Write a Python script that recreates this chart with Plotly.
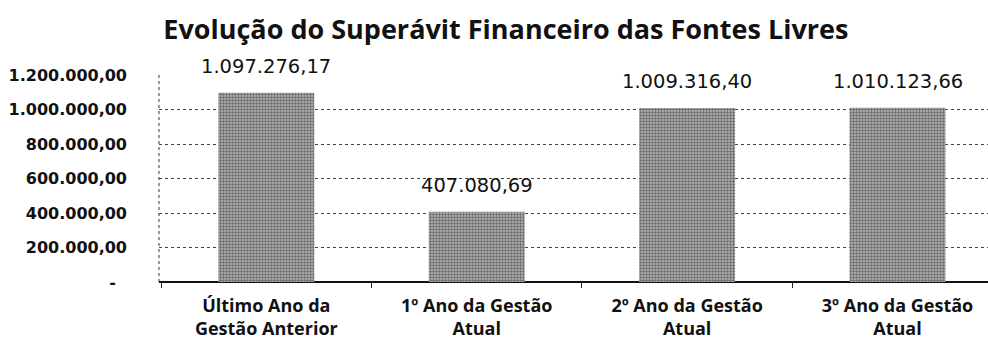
import plotly.graph_objects as go

# Superávit financeiro das fontes livres, por período de gestão
categorias = [
    "Último Ano da<br>Gestão Anterior",
    "1º Ano da Gestão<br>Atual",
    "2º Ano da Gestão<br>Atual",
    "3º Ano da Gestão<br>Atual",
]
valores = [1097276.17, 407080.69, 1009316.40, 1010123.66]
rotulos = ["1.097.276,17", "407.080,69", "1.009.316,40", "1.010.123,66"]

tick_vals = [0, 200000, 400000, 600000, 800000, 1000000, 1200000]
tick_text = ["-\u00a0\u00a0", "200.000,00", "400.000,00", "600.000,00",
             "800.000,00", "1.000.000,00", "1.200.000,00"]

fig = go.Figure()
fig.add_trace(go.Bar(
    x=categorias,
    y=valores,
    marker=dict(
        color="#8a8a8a",
        line=dict(width=0),
        pattern=dict(shape=".", fgcolor="#151515", bgcolor="#b8b8b8",
                     size=3, solidity=0.5),
    ),
    showlegend=False,
))

# Rótulos de valor acima de cada barra
for cat, val, txt in zip(categorias, valores, rotulos):
    fig.add_annotation(
        x=cat, y=val, text=txt, showarrow=False,
        xanchor="center", yanchor="bottom", yshift=13,
        font=dict(family="DejaVu Sans", size=19.5, color="#111"),
    )

fig.update_layout(
    width=988, height=349,
    margin=dict(l=159, r=0, t=75, b=67),
    paper_bgcolor="white", plot_bgcolor="white",
    bargap=0.544,
    title=dict(
        text="<b>Evolução do Superávit Financeiro das Fontes Livres</b>",
        x=0.512, xanchor="center", y=1 - 30 / 349, yanchor="middle",
        font=dict(family="Open Sans", size=27, color="#111"),
    ),
    xaxis=dict(
        range=[-0.51, 3.43],
        showgrid=False,
        ticks="outside", tickson="boundaries", ticklen=5, tickcolor="#222",
        tickfont=dict(family="Open Sans", size=18, color="#111", weight="bold"),
        ticklabelstandoff=11,
        showline=False,
    ),
    yaxis=dict(
        range=[0, 1200000],
        tickvals=tick_vals, ticktext=tick_text,
        tickfont=dict(family="DejaVu Sans", size=16, color="#111", weight="bold"),
        ticklabelstandoff=31,
        showgrid=True, gridcolor="#444", griddash="dot", gridwidth=1,
        zeroline=True, zerolinecolor="#111", zerolinewidth=1.5,
        showline=False, ticks="",
    ),
    shapes=[dict(type="line", xref="paper", yref="paper", x0=0, x1=0, y0=0, y1=1,
                 line=dict(color="#333", width=1, dash="dot"), layer="below")],
)

fig.write_html("out.html")
